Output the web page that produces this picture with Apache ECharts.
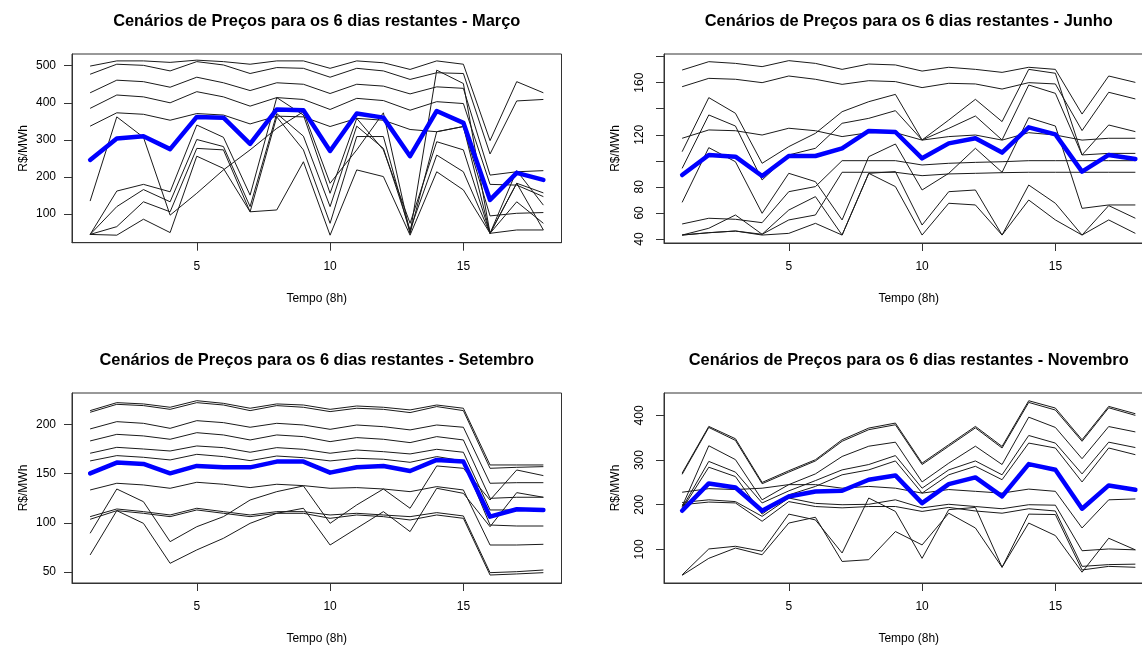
<!DOCTYPE html>
<html>
<head>
<meta charset="utf-8">
<title>Cenários de Preços</title>
<script src="https://cdn.jsdelivr.net/npm/echarts@6/dist/echarts.min.js"></script>
<style>
  html, body { margin: 0; padding: 0; background: #fff; }
  #chart { width: 1142px; height: 650px; }
</style>
</head>
<body>
<div id="chart"></div>
<script>
// períodos de 8h
var tempo = [1, 2, 3, 4, 5, 6, 7, 8, 9, 10, 11, 12, 13, 14, 15, 16, 17, 18];
var ticksTempo = [5, 10, 15];

// Março
var marco = [
  [499, 513, 513, 509, 515, 511, 504, 513, 513, 493, 513, 508, 490, 513, 504, 298, 457, 427],
  [477, 504, 501, 486, 511, 502, 479, 495, 493, 469, 493, 486, 463, 481, 479, 262, 405, 409],
  [427, 461, 457, 442, 469, 454, 433, 454, 450, 425, 450, 445, 424, 443, 439, 205, 214, 217],
  [385, 421, 416, 400, 430, 416, 391, 414, 409, 382, 412, 406, 380, 403, 398, 180, 178, 147],
  [337, 373, 369, 353, 371, 367, 343, 364, 362, 336, 358, 353, 328, 322, 336, 95, 102, 104],
  [135, 362, 307, 97, 156, 219, 273, 331, 376, 183, 273, 373, 48, 488, 452, 48, 183, 157],
  [45, 162, 180, 160, 340, 307, 151, 414, 367, 156, 358, 273, 75, 295, 273, 48, 217, 124],
  [45, 120, 166, 133, 301, 282, 120, 371, 310, 120, 337, 277, 57, 259, 214, 48, 133, 75],
  [45, 66, 133, 106, 277, 273, 106, 362, 273, 75, 309, 309, 48, 322, 336, 48, 183, 57],
  [45, 43, 86, 50, 256, 223, 106, 111, 241, 43, 219, 201, 43, 214, 165, 48, 57, 57]
];
var marcoMedia = [246, 304, 310, 275, 362, 360, 289, 382, 380, 270, 371, 360, 256, 378, 346, 138, 211, 192];
var marcoTicks = [100, 200, 300, 400, 500];

// Junho
var junho = [
  [169.7, 176.1, 174.8, 172.3, 176.9, 174.8, 170.2, 174.3, 173.6, 168.9, 171.8, 170.2, 167.9, 171.8, 170.2, 135.9, 165.1, 160.2],
  [156.9, 163.3, 162.6, 160.0, 165.1, 162.6, 158.7, 161.5, 160.8, 156.2, 159.5, 159.0, 155.1, 160.0, 159.0, 123.2, 152.6, 147.5],
  [117.3, 123.7, 123.1, 119.8, 125.0, 123.1, 118.6, 121.6, 121.6, 115.9, 118.6, 119.8, 115.9, 121.6, 119.8, 115.9, 117.3, 117.3],
  [107.0, 148.5, 136.5, 98.1, 110.9, 121.1, 137.7, 145.4, 151.0, 116.0, 131.3, 147.2, 130.1, 170.2, 167.2, 104.5, 127.5, 122.4],
  [94.2, 135.2, 126.7, 85.3, 104.5, 109.6, 128.8, 132.6, 138.5, 116.0, 124.9, 134.4, 116.0, 158.2, 151.8, 104.5, 105.7, 105.7],
  [68.1, 110.1, 99.3, 59.7, 90.4, 84.0, 54.6, 103.2, 112.9, 77.6, 90.4, 109.6, 91.2, 133.1, 126.7, 63.5, 66.1, 66.1],
  [43.0, 48.2, 58.4, 43.6, 62.2, 72.5, 43.0, 90.4, 91.7, 50.7, 76.3, 77.6, 43.0, 81.4, 67.4, 43.0, 65.6, 55.9],
  [43.0, 44.8, 46.1, 43.0, 44.3, 52.0, 43.0, 90.4, 80.2, 43.0, 67.4, 66.1, 43.0, 69.9, 54.6, 43.0, 54.6, 44.3],
  [51.5, 55.9, 55.1, 52.5, 76.3, 80.2, 100.1, 100.1, 100.1, 96.8, 98.1, 98.8, 99.3, 100.1, 100.1, 100.1, 100.1, 100.1],
  [43.0, 44.8, 46.1, 43.6, 54.6, 58.4, 91.2, 91.2, 91.2, 88.6, 89.9, 90.4, 90.9, 91.2, 91.2, 91.2, 91.2, 91.2]
];
var junhoMedia = [89.1, 104.5, 103.2, 88.3, 103.7, 103.7, 109.6, 122.9, 122.1, 101.9, 113.4, 117.3, 106.3, 125.7, 120.3, 91.7, 104.5, 101.4];
var junhoTicks = [40, 60, 80, 100, 120, 140, 160, 180];
var junhoLabels = [40, 60, 80, 120, 160];

// Setembro
var setembro = [
  [213.9, 222.0, 220.7, 217.3, 224.0, 221.3, 216.3, 220.7, 219.6, 215.2, 218.6, 217.3, 214.6, 219.6, 216.3, 158.7, 158.7, 158.7],
  [212.2, 220.3, 219.0, 215.2, 222.0, 219.6, 213.9, 219.0, 217.3, 212.9, 216.3, 215.2, 211.9, 218.0, 213.9, 155.3, 156.3, 157.0],
  [195.3, 202.7, 201.0, 195.9, 203.7, 201.7, 197.0, 201.0, 199.3, 194.9, 199.3, 197.6, 194.3, 199.3, 197.0, 140.1, 140.7, 140.7],
  [183.1, 189.8, 188.2, 184.8, 191.5, 189.2, 184.1, 189.2, 187.5, 182.4, 186.5, 184.8, 181.4, 187.5, 184.1, 124.8, 125.9, 125.9],
  [170.6, 176.6, 174.9, 172.9, 178.0, 176.3, 171.6, 176.3, 174.6, 170.6, 173.9, 172.2, 169.9, 174.6, 171.6, 113.0, 113.0, 113.0],
  [162.8, 168.2, 166.5, 163.8, 169.5, 167.2, 163.1, 167.8, 166.1, 162.8, 165.5, 164.5, 161.4, 167.2, 162.8, 97.7, 96.7, 96.7],
  [133.3, 140.1, 138.4, 135.0, 141.1, 139.1, 135.7, 139.1, 137.7, 135.0, 135.7, 134.3, 131.6, 136.7, 133.3, 77.4, 77.4, 78.1],
  [106.2, 114.0, 111.3, 107.9, 114.7, 111.3, 107.9, 111.3, 111.3, 107.9, 109.6, 107.9, 106.2, 110.3, 106.9, 49.3, 50.3, 52.0],
  [103.5, 112.3, 109.6, 106.2, 113.0, 109.6, 106.2, 109.6, 109.6, 104.5, 107.9, 106.2, 102.8, 107.9, 104.5, 46.9, 48.0, 49.3],
  [89.3, 134.3, 121.4, 80.8, 96.0, 106.2, 123.1, 131.6, 137.4, 99.4, 118.1, 134.3, 114.7, 157.7, 155.3, 123.1, 153.6, 147.9],
  [67.3, 112.3, 99.4, 58.8, 72.4, 84.2, 99.4, 109.6, 114.7, 77.4, 94.4, 111.3, 91.0, 135.0, 129.9, 96.0, 130.6, 125.9]
];
var setembroMedia = [150.2, 161.1, 159.7, 150.2, 157.7, 156.3, 156.3, 162.1, 162.1, 150.9, 156.3, 157.7, 152.6, 163.8, 162.1, 106.2, 113.7, 113.0];
var setembroTicks = [50, 100, 150, 200];

// Novembro
var novembro = [
  [270.8, 375.3, 347.7, 249.9, 276.1, 300.7, 345.5, 371.6, 382.8, 293.2, 334.3, 375.3, 330.5, 432.8, 416.4, 345.5, 420.1, 403.7],
  [268, 373, 344, 247, 273, 298, 342, 368, 379, 290, 331, 372, 327, 429, 412, 342, 417, 400],
  [196, 332, 301, 211, 245, 269, 308, 331, 340, 251, 293, 331, 290, 396, 373, 303, 375, 363],
  [193, 297, 273, 204, 231, 254, 278, 290, 310, 237, 278, 298, 267, 355, 338, 269, 340, 328],
  [190, 284, 263, 179, 222, 241, 267, 278, 298, 226, 267, 286, 256, 338, 327, 251, 327, 312],
  [228, 236, 234, 237, 245, 245, 237, 241, 237, 226, 234, 230, 226, 235, 230, 148, 211, 213],
  [205, 211, 207, 174, 215, 203, 200, 201, 211, 193, 201, 196, 191, 200, 199, 97, 101, 99],
  [200, 206, 204, 163, 207, 196, 193, 196, 196, 185, 194, 186, 181, 191, 186, 62, 66, 67],
  [43, 101, 107, 96, 179, 166, 92, 215, 185, 80, 189, 194, 60, 159, 131, 49, 125, 99],
  [42, 80, 103, 88, 159, 172, 73, 77, 140, 110, 181, 148, 60, 179, 178, 54, 62, 60]
];
var novembroMedia = [186.5, 247.7, 238.7, 186.5, 218.6, 229.8, 231.3, 255.9, 265.6, 203.7, 246.2, 261.1, 218.6, 291.0, 278.3, 191.0, 243.2, 233.5];
var novembroTicks = [100, 200, 300, 400];

var fonte = '"Liberation Sans", Arial, sans-serif';

var paineis = [
  { titulo: 'Cenários de Preços para os 6 dias restantes - Março', cen: marco, media: marcoMedia,
    box: [72, 54, 489.5, 188.7], yMin: 22.7, yMax: 531.6, ticks: marcoTicks, labels: marcoTicks, rot: 0 },
  { titulo: 'Cenários de Preços para os 6 dias restantes - Junho', cen: junho, media: junhoMedia,
    box: [664, 54, 489.5, 189], yMin: 36.9, yMax: 182, ticks: junhoTicks, labels: junhoLabels, rot: 90 },
  { titulo: 'Cenários de Preços para os 6 dias restantes - Setembro', cen: setembro, media: setembroMedia,
    box: [72, 393, 489.5, 190], yMin: 38.8, yMax: 231.8, ticks: setembroTicks, labels: setembroTicks, rot: 0 },
  { titulo: 'Cenários de Preços para os 6 dias restantes - Novembro', cen: novembro, media: novembroMedia,
    box: [664, 393, 489.5, 190], yMin: 24.8, yMax: 450.1, ticks: novembroTicks, labels: novembroTicks, rot: 90 }
];

function pares(vals) {
  return tempo.map(function (t, i) { return [t, vals[i]]; });
}

var grids = [], xAxes = [], yAxes = [], series = [], textos = [];

paineis.forEach(function (p, k) {
  // a caixa dos painéis da direita passa da borda da imagem, como no original
  grids.push({
    left: p.box[0], top: p.box[1], width: p.box[2], height: p.box[3],
    outerBoundsMode: 'none', containLabel: false,
    show: true, borderColor: '#333', borderWidth: 1, backgroundColor: 'transparent'
  });
  xAxes.push({
    gridIndex: k, type: 'value', min: 0.32, max: 18.68,
    name: 'Tempo (8h)', nameLocation: 'middle', nameGap: 50,
    nameTextStyle: { fontFamily: fonte, fontSize: 12, color: '#000' },
    axisLine: { show: true, lineStyle: { color: '#333' } },
    axisTick: { show: true, inside: false, length: 8, customValues: ticksTempo, lineStyle: { color: '#333' } },
    axisLabel: { customValues: ticksTempo, margin: 18, fontFamily: fonte, fontSize: 12, color: '#000' },
    splitLine: { show: false }
  });
  yAxes.push({
    gridIndex: k, type: 'value', min: p.yMin, max: p.yMax,
    name: 'R$/MWh', nameLocation: 'middle', nameGap: 42,
    nameTextStyle: { fontFamily: fonte, fontSize: 12, color: '#000' },
    axisLine: { show: true, lineStyle: { color: '#333' } },
    axisTick: { show: true, inside: false, length: 8, customValues: p.ticks, lineStyle: { color: '#333' } },
    axisLabel: { customValues: p.labels, rotate: p.rot, margin: p.rot ? 18 : 16,
      fontFamily: fonte, fontSize: 12, color: '#000' },
    splitLine: { show: false }
  });
  p.cen.forEach(function (c) {
    series.push({
      type: 'line', xAxisIndex: k, yAxisIndex: k, data: pares(c),
      symbol: 'none', silent: true, z: 2,
      lineStyle: { color: '#1a1a1a', width: 1, join: 'round' }
    });
  });
  series.push({
    type: 'line', xAxisIndex: k, yAxisIndex: k, data: pares(p.media),
    symbol: 'none', silent: true, z: 3,
    lineStyle: { color: '#0000ff', width: 4.5, join: 'round', cap: 'round' }
  });
  textos.push({
    type: 'text', x: p.box[0] + p.box[2] / 2, y: p.box[1] - 33,
    style: { text: p.titulo, align: 'center', verticalAlign: 'middle',
      font: 'bold 16.4px ' + fonte, fill: '#000' }
  });
});

var chart = echarts.init(document.getElementById('chart'));
chart.setOption({
  animation: false,
  backgroundColor: '#fff',
  grid: grids,
  xAxis: xAxes,
  yAxis: yAxes,
  series: series,
  graphic: textos
});
</script>
</body>
</html>
